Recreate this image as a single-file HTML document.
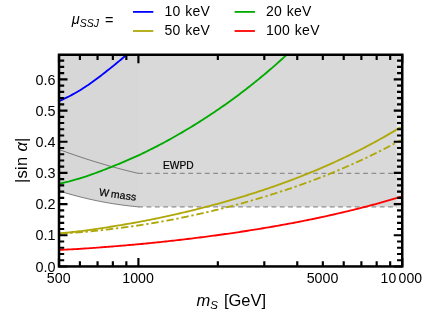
<!DOCTYPE html><html><head><meta charset="utf-8"><style>html,body{margin:0;padding:0;background:#fff}svg{display:block;will-change:transform}</style></head><body><svg width="436" height="314" viewBox="0 0 436 314">
<rect width="100%" height="100%" fill="#fff"/>
<defs><clipPath id="c"><rect x="59.00" y="54.75" width="343.25" height="211.70"/></clipPath></defs>
<g clip-path="url(#c)">
<path d="M59.00,190.94 L60.99,191.56 L62.97,192.16 L64.96,192.75 L66.94,193.33 L68.93,193.90 L70.91,194.46 L72.90,195.01 L74.88,195.54 L76.87,196.07 L78.86,196.58 L80.84,197.09 L82.83,197.58 L84.81,198.06 L86.80,198.53 L88.78,198.99 L90.77,199.43 L92.75,199.87 L94.74,200.30 L96.72,200.71 L98.71,201.11 L100.70,201.50 L102.68,201.89 L104.67,202.25 L106.65,202.61 L108.64,202.96 L110.62,203.30 L112.61,203.62 L114.59,203.94 L116.58,204.24 L118.57,204.53 L120.55,204.81 L122.54,205.08 L124.52,205.34 L126.51,205.59 L128.49,205.83 L130.48,206.05 L132.46,206.27 L134.45,206.47 L136.44,206.66 L138.42,206.84 H402.25 V54.75 H59.00 Z" fill="#d9d9d9"/>
<path d="M59.00,190.94 L60.99,191.56 L62.97,192.16 L64.96,192.75 L66.94,193.33 L68.93,193.90 L70.91,194.46 L72.90,195.01 L74.88,195.54 L76.87,196.07 L78.86,196.58 L80.84,197.09 L82.83,197.58 L84.81,198.06 L86.80,198.53 L88.78,198.99 L90.77,199.43 L92.75,199.87 L94.74,200.30 L96.72,200.71 L98.71,201.11 L100.70,201.50 L102.68,201.89 L104.67,202.25 L106.65,202.61 L108.64,202.96 L110.62,203.30 L112.61,203.62 L114.59,203.94 L116.58,204.24 L118.57,204.53 L120.55,204.81 L122.54,205.08 L124.52,205.34 L126.51,205.59 L128.49,205.83 L130.48,206.05 L132.46,206.27 L134.45,206.47 L136.44,206.66 L138.42,206.84 L138.42,54.75 L59.00,54.75 Z" fill="#d7d7d7"/>
<path d="M59.00,149.48 L60.99,150.21 L62.97,150.94 L64.96,151.65 L66.94,152.37 L68.93,153.07 L70.91,153.77 L72.90,154.46 L74.88,155.14 L76.87,155.82 L78.86,156.49 L80.84,157.15 L82.83,157.81 L84.81,158.45 L86.80,159.10 L88.78,159.73 L90.77,160.36 L92.75,160.98 L94.74,161.60 L96.72,162.21 L98.71,162.81 L100.70,163.40 L102.68,163.99 L104.67,164.57 L106.65,165.14 L108.64,165.71 L110.62,166.27 L112.61,166.82 L114.59,167.37 L116.58,167.91 L118.57,168.44 L120.55,168.97 L122.54,169.49 L124.52,170.00 L126.51,170.50 L128.49,171.00 L130.48,171.49 L132.46,171.98 L134.45,172.46 L136.44,172.93 L138.42,173.39" fill="none" stroke="#555" stroke-width="0.75"/>
<path d="M59.00,190.94 L60.99,191.56 L62.97,192.16 L64.96,192.75 L66.94,193.33 L68.93,193.90 L70.91,194.46 L72.90,195.01 L74.88,195.54 L76.87,196.07 L78.86,196.58 L80.84,197.09 L82.83,197.58 L84.81,198.06 L86.80,198.53 L88.78,198.99 L90.77,199.43 L92.75,199.87 L94.74,200.30 L96.72,200.71 L98.71,201.11 L100.70,201.50 L102.68,201.89 L104.67,202.25 L106.65,202.61 L108.64,202.96 L110.62,203.30 L112.61,203.62 L114.59,203.94 L116.58,204.24 L118.57,204.53 L120.55,204.81 L122.54,205.08 L124.52,205.34 L126.51,205.59 L128.49,205.83 L130.48,206.05 L132.46,206.27 L134.45,206.47 L136.44,206.66 L138.42,206.84" fill="none" stroke="#555" stroke-width="0.75"/>
<path d="M138.12,173.39 H139.42" fill="none" stroke="#8c8c8c" stroke-width="0.9"/>
<path d="M138.22,173.39 H402.25" fill="none" stroke="#8e8e8e" stroke-width="1.1" stroke-dasharray="4.8 3.53"/>
<path d="M138.12,206.84 H139.42" fill="none" stroke="#8c8c8c" stroke-width="0.9"/>
<path d="M138.22,206.84 H402.25" fill="none" stroke="#8e8e8e" stroke-width="1.1" stroke-dasharray="4.8 3.53"/>
<path d="M59.00,101.25 L60.72,100.42 L62.43,99.58 L64.15,98.75 L65.86,97.92 L67.58,97.10 L69.30,96.28 L71.01,95.37 L72.73,94.40 L74.45,93.44 L76.16,92.47 L77.88,91.51 L79.59,90.55 L81.31,89.45 L83.03,88.33 L84.74,87.20 L86.46,86.07 L88.18,84.94 L89.89,83.76 L91.61,82.53 L93.33,81.29 L95.04,80.05 L96.76,78.80 L98.47,77.51 L100.19,76.19 L101.91,74.87 L103.62,73.53 L105.34,72.19 L107.06,70.83 L108.77,69.48 L110.49,68.11 L112.20,66.74 L113.92,65.35 L115.64,63.94 L117.35,62.53 L119.07,61.12 L120.78,59.69 L122.50,58.26 L124.22,56.82 L125.93,55.37 L127.65,53.89 L129.37,52.39 L131.08,50.89 L132.80,49.37 L134.51,47.85 L136.23,46.32 L137.95,44.78 L139.66,43.17 L141.38,41.52 L143.10,39.87 L144.81,38.20 L146.53,36.52 L148.25,34.83 L149.96,33.13 L151.68,31.41 L153.39,29.69 L155.11,27.95 L156.83,26.20 L158.54,24.43 L160.26,22.63 L161.97,20.80 L163.69,18.95 L165.41,17.09 L167.12,15.22 L168.84,13.33 L170.56,11.43 L172.27,9.51 L173.99,7.58 L175.70,5.63 L177.42,3.67 L179.14,1.70 L180.85,-0.29 L182.57,-2.30 L184.29,-4.32 L186.00,-6.35 L187.72,-8.41 L189.43,-10.47 L191.15,-12.55 L192.87,-14.65 L194.58,-16.76 L196.30,-18.89 L198.02,-21.04 L199.73,-23.20 L201.45,-25.38 L203.16,-27.57 L204.88,-29.78 L206.60,-32.01 L208.31,-34.25 L210.03,-36.51 L211.75,-38.79 L213.46,-41.08 L215.18,-43.40 L216.89,-45.72 L218.61,-48.07 L220.33,-50.44 L222.04,-52.82 L223.76,-55.22 L225.48,-57.64 L227.19,-60.07 L228.91,-62.53 L230.62,-65.00 L232.34,-67.49 L234.06,-70.00 L235.77,-72.53 L237.49,-75.08 L239.21,-77.65 L240.92,-80.23 L242.64,-82.84 L244.36,-85.47 L246.07,-88.11 L247.79,-90.78 L249.50,-93.46 L251.22,-96.17 L252.94,-98.89 L254.65,-101.64 L256.37,-104.41 L258.08,-107.20 L259.80,-110.00 L261.52,-112.83 L263.23,-115.69 L264.95,-118.56 L266.67,-121.45 L268.38,-124.37 L270.10,-127.31 L271.81,-130.27 L273.53,-133.25 L275.25,-136.25 L276.96,-139.28 L278.68,-142.33 L280.40,-145.40 L282.11,-148.50 L283.83,-151.62 L285.54,-154.76 L287.26,-157.93 L288.98,-161.12 L290.69,-164.33 L292.41,-167.57 L294.13,-170.83 L295.84,-174.12 L297.56,-177.43 L299.27,-180.77 L300.99,-184.13 L302.71,-187.52 L304.42,-190.93 L306.14,-194.37 L307.86,-197.83 L309.57,-201.33 L311.29,-204.84 L313.00,-208.38 L314.72,-211.95 L316.44,-215.55 L318.15,-219.17 L319.87,-222.82 L321.59,-226.50 L323.30,-230.21 L325.02,-233.94 L326.73,-237.70 L328.45,-241.49 L330.17,-245.31 L331.88,-249.16 L333.60,-253.04 L335.32,-256.94 L337.03,-260.87 L338.75,-264.84 L340.46,-268.83 L342.18,-272.86 L343.90,-276.91 L345.61,-281.00 L347.33,-285.11 L349.05,-289.26 L350.76,-293.43 L352.48,-297.64 L354.19,-301.88 L355.91,-306.16 L357.63,-310.46 L359.34,-314.80 L361.06,-319.17 L362.78,-323.57 L364.49,-328.01 L366.21,-332.47 L367.92,-336.98 L369.64,-341.51 L371.36,-346.08 L373.07,-350.69 L374.79,-355.33 L376.51,-360.00 L378.22,-364.71 L379.94,-369.46 L381.65,-374.24 L383.37,-379.05 L385.09,-383.90 L386.80,-388.79 L388.52,-393.72 L390.24,-398.68 L391.95,-403.68 L393.67,-408.72 L395.38,-413.80 L397.10,-418.91 L398.82,-424.06 L400.53,-429.25 L402.25,-434.48" fill="none" stroke="#0000ff" stroke-width="1.85"/>
<path d="M59.00,183.85 L60.72,183.43 L62.43,183.02 L64.15,182.60 L65.86,182.19 L67.58,181.78 L69.30,181.37 L71.01,180.91 L72.73,180.43 L74.45,179.94 L76.16,179.46 L77.88,178.98 L79.59,178.50 L81.31,177.95 L83.03,177.39 L84.74,176.83 L86.46,176.26 L88.18,175.69 L89.89,175.10 L91.61,174.49 L93.33,173.87 L95.04,173.25 L96.76,172.62 L98.47,171.98 L100.19,171.32 L101.91,170.66 L103.62,169.99 L105.34,169.32 L107.06,168.64 L108.77,167.96 L110.49,167.28 L112.20,166.59 L113.92,165.90 L115.64,165.20 L117.35,164.49 L119.07,163.78 L120.78,163.07 L122.50,162.35 L124.22,161.63 L125.93,160.91 L127.65,160.17 L129.37,159.42 L131.08,158.67 L132.80,157.91 L134.51,157.15 L136.23,156.38 L137.95,155.61 L139.66,154.81 L141.38,153.99 L143.10,153.16 L144.81,152.33 L146.53,151.49 L148.25,150.64 L149.96,149.79 L151.68,148.93 L153.39,148.07 L155.11,147.20 L156.83,146.32 L158.54,145.44 L160.26,144.54 L161.97,143.63 L163.69,142.70 L165.41,141.77 L167.12,140.83 L168.84,139.89 L170.56,138.94 L172.27,137.98 L173.99,137.01 L175.70,136.04 L177.42,135.06 L179.14,134.07 L180.85,133.08 L182.57,132.08 L184.29,131.07 L186.00,130.05 L187.72,129.02 L189.43,127.99 L191.15,126.95 L192.87,125.90 L194.58,124.84 L196.30,123.78 L198.02,122.71 L199.73,121.63 L201.45,120.54 L203.16,119.44 L204.88,118.33 L206.60,117.22 L208.31,116.10 L210.03,114.97 L211.75,113.83 L213.46,112.68 L215.18,111.53 L216.89,110.36 L218.61,109.19 L220.33,108.01 L222.04,106.82 L223.76,105.62 L225.48,104.41 L227.19,103.19 L228.91,101.96 L230.62,100.72 L232.34,99.48 L234.06,98.22 L235.77,96.96 L237.49,95.68 L239.21,94.40 L240.92,93.11 L242.64,91.80 L244.36,90.49 L246.07,89.17 L247.79,87.84 L249.50,86.49 L251.22,85.14 L252.94,83.78 L254.65,82.40 L256.37,81.02 L258.08,79.63 L259.80,78.22 L261.52,76.81 L263.23,75.38 L264.95,73.95 L266.67,72.50 L268.38,71.04 L270.10,69.57 L271.81,68.09 L273.53,66.60 L275.25,65.10 L276.96,63.58 L278.68,62.06 L280.40,60.52 L282.11,58.97 L283.83,57.42 L285.54,55.84 L287.26,54.26 L288.98,52.67 L290.69,51.06 L292.41,49.44 L294.13,47.81 L295.84,46.16 L297.56,44.51 L299.27,42.84 L300.99,41.16 L302.71,39.47 L304.42,37.76 L306.14,36.04 L307.86,34.31 L309.57,32.56 L311.29,30.80 L313.00,29.03 L314.72,27.25 L316.44,25.45 L318.15,23.64 L319.87,21.81 L321.59,19.97 L323.30,18.12 L325.02,16.25 L326.73,14.37 L328.45,12.48 L330.17,10.57 L331.88,8.65 L333.60,6.71 L335.32,4.75 L337.03,2.79 L338.75,0.81 L340.46,-1.19 L342.18,-3.20 L343.90,-5.23 L345.61,-7.27 L347.33,-9.33 L349.05,-11.40 L350.76,-13.49 L352.48,-15.60 L354.19,-17.72 L355.91,-19.85 L357.63,-22.01 L359.34,-24.17 L361.06,-26.36 L362.78,-28.56 L364.49,-30.78 L366.21,-33.01 L367.92,-35.26 L369.64,-37.53 L371.36,-39.82 L373.07,-42.12 L374.79,-44.44 L376.51,-46.78 L378.22,-49.13 L379.94,-51.50 L381.65,-53.89 L383.37,-56.30 L385.09,-58.73 L386.80,-61.17 L388.52,-63.63 L390.24,-66.12 L391.95,-68.62 L393.67,-71.14 L395.38,-73.67 L397.10,-76.23 L398.82,-78.81 L400.53,-81.40 L402.25,-84.02" fill="none" stroke="#00aa00" stroke-width="1.85"/>
<path d="M59.00,233.41 L60.72,233.24 L62.43,233.08 L64.15,232.91 L65.86,232.74 L67.58,232.58 L69.30,232.42 L71.01,232.23 L72.73,232.04 L74.45,231.85 L76.16,231.65 L77.88,231.46 L79.59,231.27 L81.31,231.05 L83.03,230.83 L84.74,230.60 L86.46,230.37 L88.18,230.15 L89.89,229.91 L91.61,229.67 L93.33,229.42 L95.04,229.17 L96.76,228.92 L98.47,228.66 L100.19,228.40 L101.91,228.13 L103.62,227.87 L105.34,227.60 L107.06,227.33 L108.77,227.06 L110.49,226.78 L112.20,226.51 L113.92,226.23 L115.64,225.95 L117.35,225.67 L119.07,225.38 L120.78,225.10 L122.50,224.81 L124.22,224.52 L125.93,224.23 L127.65,223.94 L129.37,223.64 L131.08,223.34 L132.80,223.03 L134.51,222.73 L136.23,222.42 L137.95,222.12 L139.66,221.79 L141.38,221.46 L143.10,221.13 L144.81,220.80 L146.53,220.46 L148.25,220.13 L149.96,219.79 L151.68,219.44 L153.39,219.10 L155.11,218.75 L156.83,218.40 L158.54,218.05 L160.26,217.69 L161.97,217.32 L163.69,216.95 L165.41,216.58 L167.12,216.20 L168.84,215.83 L170.56,215.45 L172.27,215.06 L173.99,214.68 L175.70,214.29 L177.42,213.89 L179.14,213.50 L180.85,213.10 L182.57,212.70 L184.29,212.30 L186.00,211.89 L187.72,211.48 L189.43,211.07 L191.15,210.65 L192.87,210.23 L194.58,209.81 L196.30,209.38 L198.02,208.95 L199.73,208.52 L201.45,208.08 L203.16,207.65 L204.88,207.20 L206.60,206.76 L208.31,206.31 L210.03,205.86 L211.75,205.40 L213.46,204.94 L215.18,204.48 L216.89,204.02 L218.61,203.55 L220.33,203.07 L222.04,202.60 L223.76,202.12 L225.48,201.63 L227.19,201.15 L228.91,200.65 L230.62,200.16 L232.34,199.66 L234.06,199.16 L235.77,198.65 L237.49,198.14 L239.21,197.63 L240.92,197.11 L242.64,196.59 L244.36,196.07 L246.07,195.54 L247.79,195.00 L249.50,194.47 L251.22,193.93 L252.94,193.38 L254.65,192.83 L256.37,192.28 L258.08,191.72 L259.80,191.16 L261.52,190.59 L263.23,190.02 L264.95,189.45 L266.67,188.87 L268.38,188.29 L270.10,187.70 L271.81,187.11 L273.53,186.51 L275.25,185.91 L276.96,185.30 L278.68,184.69 L280.40,184.08 L282.11,183.46 L283.83,182.84 L285.54,182.21 L287.26,181.57 L288.98,180.94 L290.69,180.29 L292.41,179.65 L294.13,178.99 L295.84,178.34 L297.56,177.67 L299.27,177.01 L300.99,176.33 L302.71,175.66 L304.42,174.97 L306.14,174.29 L307.86,173.59 L309.57,172.89 L311.29,172.19 L313.00,171.48 L314.72,170.77 L316.44,170.05 L318.15,169.33 L319.87,168.60 L321.59,167.86 L323.30,167.12 L325.02,166.37 L326.73,165.62 L328.45,164.86 L330.17,164.10 L331.88,163.33 L333.60,162.55 L335.32,161.77 L337.03,160.99 L338.75,160.19 L340.46,159.39 L342.18,158.59 L343.90,157.78 L345.61,156.96 L347.33,156.14 L349.05,155.31 L350.76,154.47 L352.48,153.63 L354.19,152.78 L355.91,151.93 L357.63,151.07 L359.34,150.20 L361.06,149.33 L362.78,148.45 L364.49,147.56 L366.21,146.67 L367.92,145.76 L369.64,144.86 L371.36,143.94 L373.07,143.02 L374.79,142.09 L376.51,141.16 L378.22,140.22 L379.94,139.27 L381.65,138.31 L383.37,137.35 L385.09,136.38 L386.80,135.40 L388.52,134.42 L390.24,133.42 L391.95,132.42 L393.67,131.42 L395.38,130.40 L397.10,129.38 L398.82,128.35 L400.53,127.31 L402.25,126.26" fill="none" stroke="#aea80a" stroke-width="1.85"/>
<path d="M59.00,233.58 L59.86,233.53 L60.72,233.48 L61.57,233.44 L62.43,233.39 L63.29,233.34 L64.15,233.30 L65.01,233.25 L65.86,233.20 L66.72,233.16 L67.58,233.11 L68.44,233.07 L69.30,233.02 L70.16,232.97 L71.01,232.91 L71.87,232.85 L72.73,232.79 L73.59,232.73 L74.45,232.67 L75.30,232.61 L76.16,232.55 L77.02,232.49 L77.88,232.43 L78.74,232.37 L79.59,232.31 L80.45,232.24 L81.31,232.17 L82.17,232.09 L83.03,232.01 L83.89,231.94 L84.74,231.86 L85.60,231.78 L86.46,231.71 L87.32,231.63 L88.18,231.55 L89.03,231.48 L89.89,231.39 L90.75,231.30 L91.61,231.22 L92.47,231.13 L93.33,231.04 L94.18,230.95 L95.04,230.86 L95.90,230.78 L96.76,230.69 L97.62,230.60 L98.47,230.50 L99.33,230.41 L100.19,230.31 L101.05,230.21 L101.91,230.11 L102.76,230.02 L103.62,229.92 L104.48,229.82 L105.34,229.72 L106.20,229.62 L107.06,229.52 L107.91,229.42 L108.77,229.32 L109.63,229.22 L110.49,229.11 L111.35,229.01 L112.20,228.91 L113.06,228.81 L113.92,228.70 L114.78,228.59 L115.64,228.49 L116.49,228.38 L117.35,228.27 L118.21,228.17 L119.07,228.06 L119.93,227.95 L120.78,227.84 L121.64,227.73 L122.50,227.62 L123.36,227.51 L124.22,227.39 L125.08,227.28 L125.93,227.17 L126.79,227.05 L127.65,226.94 L128.51,226.82 L129.37,226.70 L130.22,226.58 L131.08,226.47 L131.94,226.35 L132.80,226.23 L133.66,226.10 L134.51,225.98 L135.37,225.86 L136.23,225.74 L137.09,225.62 L137.95,225.49 L138.81,225.36 L139.66,225.23 L140.52,225.10 L141.38,224.96 L142.24,224.83 L143.10,224.69 L143.95,224.56 L144.81,224.42 L145.67,224.28 L146.53,224.14 L147.39,224.00 L148.25,223.86 L149.10,223.72 L149.96,223.58 L150.82,223.44 L151.68,223.30 L152.54,223.15 L153.39,223.01 L154.25,222.86 L155.11,222.72 L155.97,222.57 L156.83,222.42 L157.68,222.27 L158.54,222.12 L159.40,221.97 L160.26,221.82 L161.12,221.66 L161.97,221.51 L162.83,221.35 L163.69,221.19 L164.55,221.03 L165.41,220.87 L166.27,220.71 L167.12,220.55 L167.98,220.39 L168.84,220.23 L169.70,220.07 L170.56,219.90 L171.41,219.74 L172.27,219.57 L173.13,219.40 L173.99,219.24 L174.85,219.07 L175.70,218.90 L176.56,218.73 L177.42,218.56 L178.28,218.38 L179.14,218.21 L180.00,218.04 L180.85,217.86 L181.71,217.69 L182.57,217.51 L183.43,217.34 L184.29,217.16 L185.14,216.98 L186.00,216.80 L186.86,216.62 L187.72,216.44 L188.58,216.26 L189.43,216.07 L190.29,215.89 L191.15,215.71 L192.01,215.52 L192.87,215.34 L193.73,215.15 L194.58,214.96 L195.44,214.77 L196.30,214.58 L197.16,214.39 L198.02,214.20 L198.87,214.01 L199.73,213.82 L200.59,213.62 L201.45,213.43 L202.31,213.23 L203.16,213.04 L204.02,212.84 L204.88,212.64 L205.74,212.44 L206.60,212.24 L207.46,212.04 L208.31,211.84 L209.17,211.64 L210.03,211.44 L210.89,211.23 L211.75,211.03 L212.60,210.82 L213.46,210.62 L214.32,210.41 L215.18,210.20 L216.04,209.99 L216.89,209.78 L217.75,209.57 L218.61,209.36 L219.47,209.15 L220.33,208.93 L221.19,208.72 L222.04,208.51 L222.90,208.29 L223.76,208.07 L224.62,207.85 L225.48,207.64 L226.33,207.42 L227.19,207.20 L228.05,206.98 L228.91,206.75 L229.77,206.53 L230.62,206.31 L231.48,206.08 L232.34,205.86 L233.20,205.63 L234.06,205.40 L234.92,205.17 L235.77,204.95 L236.63,204.72 L237.49,204.48 L238.35,204.25 L239.21,204.02 L240.06,203.79 L240.92,203.55 L241.78,203.32 L242.64,203.08 L243.50,202.84 L244.36,202.61 L245.21,202.37 L246.07,202.13 L246.93,201.89 L247.79,201.64 L248.65,201.40 L249.50,201.16 L250.36,200.91 L251.22,200.67 L252.08,200.42 L252.94,200.17 L253.79,199.92 L254.65,199.67 L255.51,199.42 L256.37,199.17 L257.23,198.92 L258.08,198.67 L258.94,198.41 L259.80,198.16 L260.66,197.90 L261.52,197.65 L262.38,197.39 L263.23,197.13 L264.09,196.87 L264.95,196.61 L265.81,196.35 L266.67,196.08 L267.52,195.82 L268.38,195.55 L269.24,195.29 L270.10,195.02 L270.96,194.75 L271.81,194.48 L272.67,194.21 L273.53,193.94 L274.39,193.67 L275.25,193.40 L276.11,193.12 L276.96,192.85 L277.82,192.57 L278.68,192.30 L279.54,192.02 L280.40,191.74 L281.25,191.46 L282.11,191.18 L282.97,190.90 L283.83,190.61 L284.69,190.33 L285.54,190.04 L286.40,189.76 L287.26,189.47 L288.12,189.18 L288.98,188.89 L289.84,188.60 L290.69,188.31 L291.55,188.01 L292.41,187.72 L293.27,187.42 L294.13,187.13 L294.98,186.83 L295.84,186.53 L296.70,186.23 L297.56,185.93 L298.42,185.63 L299.27,185.32 L300.13,185.02 L300.99,184.71 L301.85,184.41 L302.71,184.10 L303.57,183.79 L304.42,183.48 L305.28,183.17 L306.14,182.86 L307.00,182.54 L307.86,182.23 L308.71,181.91 L309.57,181.60 L310.43,181.28 L311.29,180.96 L312.15,180.64 L313.00,180.32 L313.86,179.99 L314.72,179.67 L315.58,179.34 L316.44,179.02 L317.30,178.69 L318.15,178.36 L319.01,178.03 L319.87,177.70 L320.73,177.36 L321.59,177.03 L322.44,176.69 L323.30,176.36 L324.16,176.02 L325.02,175.68 L325.88,175.34 L326.73,175.00 L327.59,174.65 L328.45,174.31 L329.31,173.96 L330.17,173.62 L331.03,173.27 L331.88,172.92 L332.74,172.57 L333.60,172.22 L334.46,171.86 L335.32,171.51 L336.17,171.15 L337.03,170.79 L337.89,170.43 L338.75,170.07 L339.61,169.71 L340.46,169.35 L341.32,168.99 L342.18,168.62 L343.04,168.25 L343.90,167.88 L344.76,167.51 L345.61,167.14 L346.47,166.77 L347.33,166.40 L348.19,166.02 L349.05,165.64 L349.90,165.27 L350.76,164.89 L351.62,164.51 L352.48,164.12 L353.34,163.74 L354.19,163.35 L355.05,162.97 L355.91,162.58 L356.77,162.19 L357.63,161.80 L358.49,161.41 L359.34,161.01 L360.20,160.62 L361.06,160.22 L361.92,159.82 L362.78,159.42 L363.63,159.02 L364.49,158.62 L365.35,158.21 L366.21,157.81 L367.07,157.40 L367.92,156.99 L368.78,156.58 L369.64,156.17 L370.50,155.75 L371.36,155.34 L372.22,154.92 L373.07,154.50 L373.93,154.08 L374.79,153.66 L375.65,153.24 L376.51,152.81 L377.36,152.39 L378.22,151.96 L379.08,151.53 L379.94,151.10 L380.80,150.66 L381.65,150.23 L382.51,149.79 L383.37,149.36 L384.23,148.92 L385.09,148.48 L385.95,148.03 L386.80,147.59 L387.66,147.14 L388.52,146.70 L389.38,146.25 L390.24,145.80 L391.09,145.34 L391.95,144.89 L392.81,144.43 L393.67,143.97 L394.53,143.51 L395.38,143.05 L396.24,142.59 L397.10,142.13 L397.96,141.66 L398.82,141.19 L399.68,140.72 L400.53,140.25 L401.39,139.78 L402.25,139.30" fill="none" stroke="#aea80a" stroke-width="1.85" stroke-dasharray="7.5 2.7 2.4 2.7" stroke-dashoffset="-1.07"/>
<path d="M59.00,249.93 L60.72,249.85 L62.43,249.76 L64.15,249.68 L65.86,249.60 L67.58,249.52 L69.30,249.43 L71.01,249.34 L72.73,249.25 L74.45,249.15 L76.16,249.05 L77.88,248.96 L79.59,248.86 L81.31,248.75 L83.03,248.64 L84.74,248.53 L86.46,248.41 L88.18,248.30 L89.89,248.18 L91.61,248.06 L93.33,247.93 L95.04,247.81 L96.76,247.68 L98.47,247.56 L100.19,247.42 L101.91,247.29 L103.62,247.16 L105.34,247.02 L107.06,246.89 L108.77,246.75 L110.49,246.62 L112.20,246.48 L113.92,246.34 L115.64,246.20 L117.35,246.06 L119.07,245.92 L120.78,245.77 L122.50,245.63 L124.22,245.49 L125.93,245.34 L127.65,245.19 L129.37,245.04 L131.08,244.89 L132.80,244.74 L134.51,244.59 L136.23,244.44 L137.95,244.28 L139.66,244.12 L141.38,243.96 L143.10,243.79 L144.81,243.63 L146.53,243.46 L148.25,243.29 L149.96,243.12 L151.68,242.95 L153.39,242.77 L155.11,242.60 L156.83,242.42 L158.54,242.25 L160.26,242.07 L161.97,241.89 L163.69,241.70 L165.41,241.51 L167.12,241.33 L168.84,241.14 L170.56,240.95 L172.27,240.76 L173.99,240.56 L175.70,240.37 L177.42,240.17 L179.14,239.97 L180.85,239.78 L182.57,239.58 L184.29,239.37 L186.00,239.17 L187.72,238.96 L189.43,238.76 L191.15,238.55 L192.87,238.34 L194.58,238.13 L196.30,237.92 L198.02,237.70 L199.73,237.49 L201.45,237.27 L203.16,237.05 L204.88,236.83 L206.60,236.60 L208.31,236.38 L210.03,236.15 L211.75,235.93 L213.46,235.70 L215.18,235.47 L216.89,235.23 L218.61,235.00 L220.33,234.76 L222.04,234.52 L223.76,234.28 L225.48,234.04 L227.19,233.80 L228.91,233.55 L230.62,233.30 L232.34,233.06 L234.06,232.80 L235.77,232.55 L237.49,232.30 L239.21,232.04 L240.92,231.78 L242.64,231.52 L244.36,231.26 L246.07,230.99 L247.79,230.73 L249.50,230.46 L251.22,230.19 L252.94,229.92 L254.65,229.64 L256.37,229.36 L258.08,229.09 L259.80,228.80 L261.52,228.52 L263.23,228.24 L264.95,227.95 L266.67,227.66 L268.38,227.37 L270.10,227.07 L271.81,226.78 L273.53,226.48 L275.25,226.18 L276.96,225.88 L278.68,225.57 L280.40,225.26 L282.11,224.95 L283.83,224.64 L285.54,224.33 L287.26,224.01 L288.98,223.69 L290.69,223.37 L292.41,223.05 L294.13,222.72 L295.84,222.39 L297.56,222.06 L299.27,221.73 L300.99,221.39 L302.71,221.05 L304.42,220.71 L306.14,220.37 L307.86,220.02 L309.57,219.67 L311.29,219.32 L313.00,218.97 L314.72,218.61 L316.44,218.25 L318.15,217.89 L319.87,217.52 L321.59,217.15 L323.30,216.78 L325.02,216.41 L326.73,216.03 L328.45,215.66 L330.17,215.27 L331.88,214.89 L333.60,214.50 L335.32,214.11 L337.03,213.72 L338.75,213.32 L340.46,212.92 L342.18,212.52 L343.90,212.11 L345.61,211.71 L347.33,211.29 L349.05,210.88 L350.76,210.46 L352.48,210.04 L354.19,209.62 L355.91,209.19 L357.63,208.76 L359.34,208.33 L361.06,207.89 L362.78,207.45 L364.49,207.00 L366.21,206.56 L367.92,206.11 L369.64,205.65 L371.36,205.20 L373.07,204.74 L374.79,204.27 L376.51,203.80 L378.22,203.33 L379.94,202.86 L381.65,202.38 L383.37,201.90 L385.09,201.41 L386.80,200.93 L388.52,200.43 L390.24,199.94 L391.95,199.44 L393.67,198.93 L395.38,198.43 L397.10,197.91 L398.82,197.40 L400.53,196.88 L402.25,196.36" fill="none" stroke="#ff0000" stroke-width="1.85"/>
</g>
<rect x="396.6" y="205.30" width="4.6" height="2.8" fill="#eaeaea"/>
<rect x="396.6" y="199.06" width="4.6" height="2.8" fill="#eaeaea"/>
<rect x="396.6" y="192.83" width="4.6" height="2.8" fill="#eaeaea"/>
<rect x="396.6" y="186.59" width="4.6" height="2.8" fill="#eaeaea"/>
<rect x="396.6" y="180.36" width="4.6" height="2.8" fill="#eaeaea"/>
<rect x="396.6" y="174.12" width="4.6" height="2.8" fill="#eaeaea"/>
<rect x="396.6" y="167.89" width="4.6" height="2.8" fill="#eaeaea"/>
<rect x="396.6" y="161.65" width="4.6" height="2.8" fill="#eaeaea"/>
<rect x="396.6" y="155.42" width="4.6" height="2.8" fill="#eaeaea"/>
<rect x="396.6" y="149.18" width="4.6" height="2.8" fill="#eaeaea"/>
<rect x="396.6" y="142.95" width="4.6" height="2.8" fill="#eaeaea"/>
<rect x="396.6" y="136.71" width="4.6" height="2.8" fill="#eaeaea"/>
<rect x="396.6" y="130.48" width="4.6" height="2.8" fill="#eaeaea"/>
<rect x="396.6" y="124.24" width="4.6" height="2.8" fill="#eaeaea"/>
<rect x="396.6" y="118.01" width="4.6" height="2.8" fill="#eaeaea"/>
<rect x="396.6" y="111.77" width="4.6" height="2.8" fill="#eaeaea"/>
<rect x="396.6" y="105.54" width="4.6" height="2.8" fill="#eaeaea"/>
<rect x="396.6" y="99.30" width="4.6" height="2.8" fill="#eaeaea"/>
<rect x="396.6" y="93.07" width="4.6" height="2.8" fill="#eaeaea"/>
<rect x="396.6" y="86.83" width="4.6" height="2.8" fill="#eaeaea"/>
<rect x="396.6" y="80.60" width="4.6" height="2.8" fill="#eaeaea"/>
<rect x="396.6" y="74.36" width="4.6" height="2.8" fill="#eaeaea"/>
<rect x="396.6" y="68.13" width="4.6" height="2.8" fill="#eaeaea"/>
<rect x="396.6" y="61.89" width="4.6" height="2.8" fill="#eaeaea"/>
<path d="M59.00,266.45v-8.50M59.00,54.75v8.50M79.89,266.45v-5.20M79.89,54.75v5.20M97.55,266.45v-5.20M97.55,54.75v5.20M112.85,266.45v-5.20M112.85,54.75v5.20M126.35,266.45v-5.20M126.35,54.75v5.20M138.42,266.45v-8.50M138.42,54.75v8.50M217.84,266.45v-5.20M217.84,54.75v5.20M264.30,266.45v-5.20M264.30,54.75v5.20M297.26,266.45v-5.20M297.26,54.75v5.20M322.83,266.45v-5.20M322.83,54.75v5.20M343.72,266.45v-5.20M343.72,54.75v5.20M361.38,266.45v-5.20M361.38,54.75v5.20M376.68,266.45v-5.20M376.68,54.75v5.20M390.18,266.45v-5.20M390.18,54.75v5.20M402.25,266.45v-8.50M402.25,54.75v8.50M59.00,266.45h8.50M402.25,266.45h-8.50M59.00,260.21h5.20M402.25,260.21h-5.20M59.00,253.98h5.20M402.25,253.98h-5.20M59.00,247.74h5.20M402.25,247.74h-5.20M59.00,241.51h5.20M402.25,241.51h-5.20M59.00,235.27h8.50M402.25,235.27h-8.50M59.00,229.04h5.20M402.25,229.04h-5.20M59.00,222.80h5.20M402.25,222.80h-5.20M59.00,216.57h5.20M402.25,216.57h-5.20M59.00,210.33h5.20M402.25,210.33h-5.20M59.00,204.10h8.50M402.25,204.10h-8.50M59.00,197.86h5.20M402.25,197.86h-5.20M59.00,191.63h5.20M402.25,191.63h-5.20M59.00,185.39h5.20M402.25,185.39h-5.20M59.00,179.16h5.20M402.25,179.16h-5.20M59.00,172.93h8.50M402.25,172.93h-8.50M59.00,166.69h5.20M402.25,166.69h-5.20M59.00,160.45h5.20M402.25,160.45h-5.20M59.00,154.22h5.20M402.25,154.22h-5.20M59.00,147.98h5.20M402.25,147.98h-5.20M59.00,141.75h8.50M402.25,141.75h-8.50M59.00,135.51h5.20M402.25,135.51h-5.20M59.00,129.28h5.20M402.25,129.28h-5.20M59.00,123.04h5.20M402.25,123.04h-5.20M59.00,116.81h5.20M402.25,116.81h-5.20M59.00,110.57h8.50M402.25,110.57h-8.50M59.00,104.34h5.20M402.25,104.34h-5.20M59.00,98.10h5.20M402.25,98.10h-5.20M59.00,91.87h5.20M402.25,91.87h-5.20M59.00,85.63h5.20M402.25,85.63h-5.20M59.00,79.40h8.50M402.25,79.40h-8.50M59.00,73.16h5.20M402.25,73.16h-5.20M59.00,66.93h5.20M402.25,66.93h-5.20M59.00,60.69h5.20M402.25,60.69h-5.20" fill="none" stroke="#000" stroke-width="2.15"/>
<rect x="59.00" y="54.75" width="343.25" height="211.70" fill="none" stroke="#000" stroke-width="2.5"/>
<g font-family="Liberation Sans, sans-serif" fill="#000">
<text x="55.6" y="271.65" font-size="14.4" text-anchor="end">0.0</text>
<text x="55.6" y="240.47" font-size="14.4" text-anchor="end">0.1</text>
<text x="55.6" y="209.30" font-size="14.4" text-anchor="end">0.2</text>
<text x="55.6" y="178.12" font-size="14.4" text-anchor="end">0.3</text>
<text x="55.6" y="146.95" font-size="14.4" text-anchor="end">0.4</text>
<text x="55.6" y="115.77" font-size="14.4" text-anchor="end">0.5</text>
<text x="55.6" y="84.60" font-size="14.4" text-anchor="end">0.6</text>
<text x="58.70" y="282.7" font-size="14.2" text-anchor="middle">500</text>
<text x="138.12" y="282.7" font-size="14.2" text-anchor="middle">1000</text>
<text x="322.53" y="282.7" font-size="14.2" text-anchor="middle">5000</text>
<text x="396.2" y="282.6" font-size="14" text-anchor="end">10</text>
<text x="398.6" y="282.6" font-size="14" text-anchor="start">000</text>
<text x="196.6" y="306.4" font-size="16.5"><tspan font-style="italic">m</tspan><tspan font-style="italic" font-size="11.5" dy="3">S</tspan><tspan dy="-3" dx="1.3"> [GeV]</tspan></text>
<text transform="translate(27.1,160.2) rotate(-90)" font-size="16.5" letter-spacing="0.3" text-anchor="middle">|sin <tspan font-style="italic">α</tspan>|</text>
<text x="71.7" y="24" font-size="14.5"><tspan font-style="italic">μ</tspan><tspan font-style="italic" font-size="10.5" dy="3">SSJ</tspan></text>
<text x="105.0" y="25.3" font-size="14.5">=</text>
<path d="M133.0,11.9h20.3" stroke="#0000ff" stroke-width="1.8"/>
<text x="164.4" y="16.1" font-size="14" letter-spacing="0.25" word-spacing="0.6">10 keV</text>
<path d="M133.0,31.0h20.3" stroke="#aea80a" stroke-width="1.8"/>
<text x="164.4" y="35.2" font-size="14" letter-spacing="0.25" word-spacing="0.6">50 keV</text>
<path d="M234.6,11.9h20.3" stroke="#00aa00" stroke-width="1.8"/>
<text x="266.0" y="16.1" font-size="14" letter-spacing="0.25" word-spacing="0.6">20 keV</text>
<path d="M234.6,31.0h20.3" stroke="#ff0000" stroke-width="1.8"/>
<text x="266.0" y="35.2" font-size="14" letter-spacing="0.25" word-spacing="0.6">100 keV</text>
<text x="163" y="168.8" font-size="10.2" stroke="#000" stroke-width="0.2">EWPD</text>
<text transform="translate(98.7,195.6) rotate(8)" font-size="10.5" stroke="#000" stroke-width="0.2" word-spacing="-1.2" letter-spacing="0.15">W mass</text>
</g>
</svg></body></html>
